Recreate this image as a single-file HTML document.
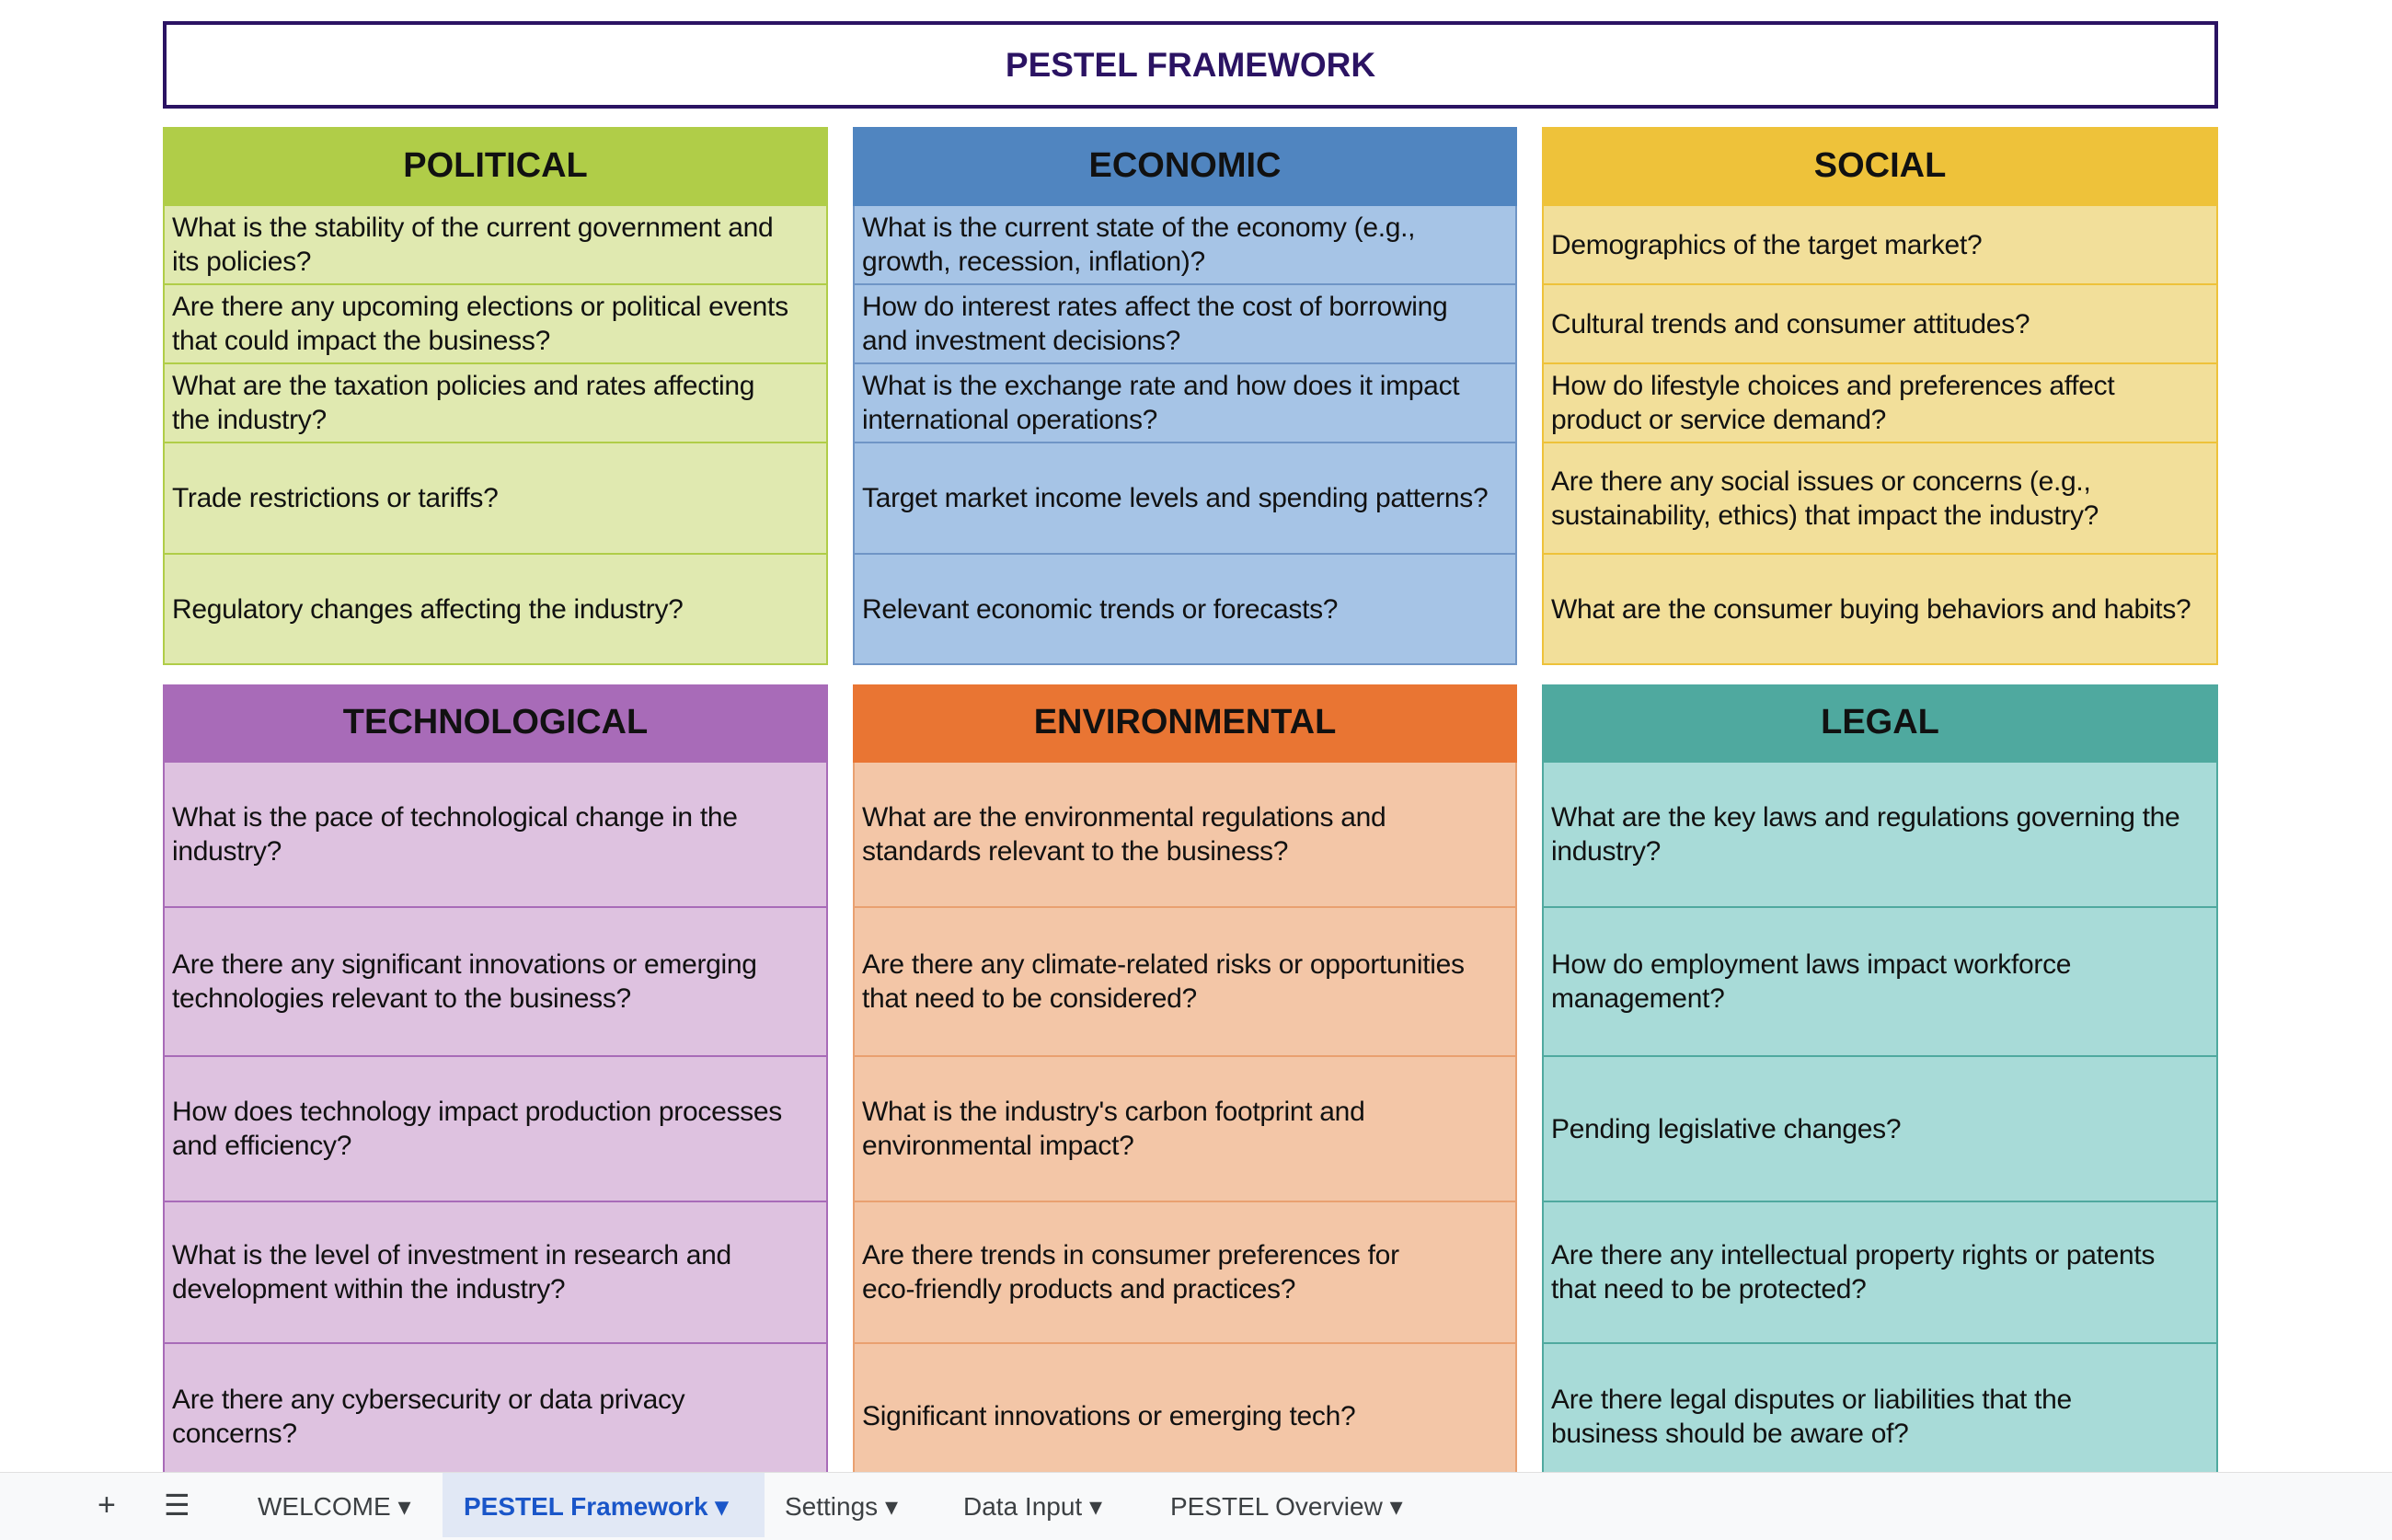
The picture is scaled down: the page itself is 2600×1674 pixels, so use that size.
<!DOCTYPE html>
<html><head><meta charset="utf-8"><style>
*{margin:0;padding:0;box-sizing:border-box}
body{width:2600px;height:1674px;background:#fff;position:relative;overflow:hidden;font-family:"Liberation Sans",sans-serif;color:#111}
.title{position:absolute;left:177px;top:23px;width:2234px;height:95px;border:4px solid #2b1363;display:flex;align-items:center;justify-content:center;font-size:37px;font-weight:bold;color:#2b1363}
.cell{position:absolute;left:0;display:flex;align-items:center;padding:0 8px;font-size:30px;letter-spacing:-0.3px;line-height:37px;white-space:nowrap;overflow:hidden;border-left:2px solid;border-right:2px solid;border-bottom:2px solid}
.hd{justify-content:center;font-size:38px;font-weight:bold;padding:0;letter-spacing:0}
.tab{position:absolute;left:0;top:1600px;width:2600px;height:74px;background:#f8f9fa;border-top:1px solid #e0e0e0;font-size:28px;color:#3c4043}
.tab span{position:absolute;top:20px}
.act{position:absolute;left:481px;top:0;width:350px;height:70px;background:#e1e8f5}
</style></head><body>
<div class="title">PESTEL FRAMEWORK</div>
<div id="g"></div>
<div class="tab">
<div class="act"></div>
<span style="left:106px;font-size:34px;top:16px">+</span>
<span style="left:178px;font-size:32px;top:16px">☰</span>
<span style="left:280px">WELCOME ▾</span>
<span style="left:504px;color:#1a56c9;font-weight:bold">PESTEL Framework ▾</span>
<span style="left:853px">Settings ▾</span>
<span style="left:1047px">Data Input ▾</span>
<span style="left:1272px">PESTEL Overview ▾</span>
</div>
<script>
const cols=[
{x:177,w:723,y:[138,224,310,396,482,603,723],h:"#b0cd48",c:"#e0e9b0",b:"#b0cd48",t:"POLITICAL",r:["What is the stability of the current government and<br>its policies?","Are there any upcoming elections or political events<br>that could impact the business?","What are the taxation policies and rates affecting<br>the industry?","Trade restrictions or tariffs?","Regulatory changes affecting the industry?"]},
{x:927,w:722,y:[138,224,310,396,482,603,723],h:"#5085c0",c:"#a6c4e6",b:"#6f95c6",t:"ECONOMIC",r:["What is the current state of the economy (e.g.,<br>growth, recession, inflation)?","How do interest rates affect the cost of borrowing<br>and investment decisions?","What is the exchange rate and how does it impact<br>international operations?","Target market income levels and spending patterns?","Relevant economic trends or forecasts?"]},
{x:1676,w:735,y:[138,224,310,396,482,603,723],h:"#eec23a",c:"#f2df9a",b:"#eec23a",t:"SOCIAL",r:["Demographics of the target market?","Cultural trends and consumer attitudes?","How do lifestyle choices and preferences affect<br>product or service demand?","Are there any social issues or concerns (e.g.,<br>sustainability, ethics) that impact the industry?","What are the consumer buying behaviors and habits?"]},
{x:177,w:723,y:[744,829,987,1149,1307,1461,1620],h:"#a86bb8",c:"#dec2e0",b:"#a86bb8",t:"TECHNOLOGICAL",r:["What is the pace of technological change in the<br>industry?","Are there any significant innovations or emerging<br>technologies relevant to the business?","How does technology impact production processes<br>and efficiency?","What is the level of investment in research and<br>development within the industry?","Are there any cybersecurity or data privacy<br>concerns?"]},
{x:927,w:722,y:[744,829,987,1149,1307,1461,1620],h:"#e97533",c:"#f3c6a7",b:"#e9a070",t:"ENVIRONMENTAL",r:["What are the environmental regulations and<br>standards relevant to the business?","Are there any climate-related risks or opportunities<br>that need to be considered?","What is the industry's carbon footprint and<br>environmental impact?","Are there trends in consumer preferences for<br>eco-friendly products and practices?","Significant innovations or emerging tech?"]},
{x:1676,w:735,y:[744,829,987,1149,1307,1461,1620],h:"#4fa99f",c:"#a8dbd8",b:"#4fa99f",t:"LEGAL",r:["What are the key laws and regulations governing the<br>industry?","How do employment laws impact workforce<br>management?","Pending legislative changes?","Are there any intellectual property rights or patents<br>that need to be protected?","Are there legal disputes or liabilities that the<br>business should be aware of?"]}
];
let s="";
for(const c of cols){
 s+=`<div class="cell hd" style="left:${c.x}px;top:${c.y[0]}px;width:${c.w}px;height:${c.y[1]-c.y[0]}px;background:${c.h};border-color:${c.h}">${c.t}</div>`;
 c.r.forEach((t,i)=>{s+=`<div class="cell" style="left:${c.x}px;top:${c.y[i+1]}px;width:${c.w}px;height:${c.y[i+2]-c.y[i+1]}px;background:${c.c};border-color:${c.b}"><div>${t}</div></div>`;});
}
document.getElementById('g').innerHTML=s;
</script>
</body></html>
